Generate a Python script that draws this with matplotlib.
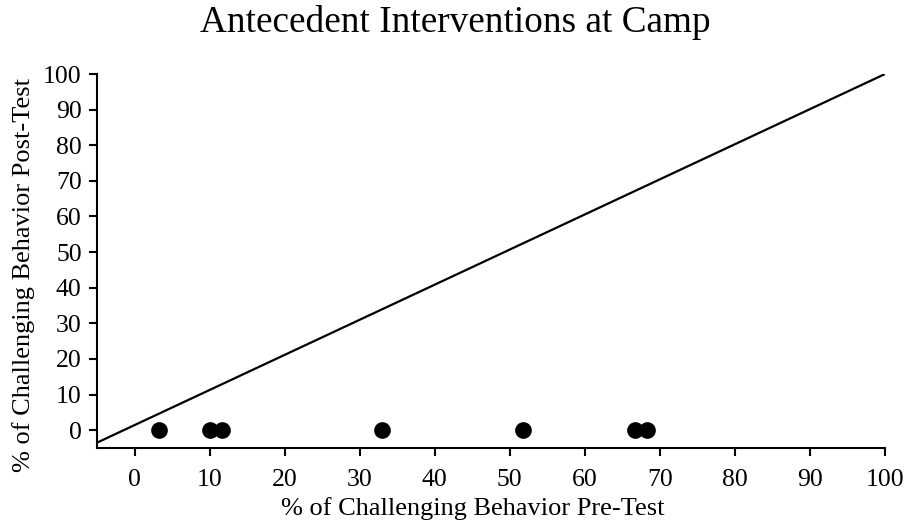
import matplotlib
matplotlib.use("Agg")
from matplotlib import pyplot as plt

pre_test = [3.3, 10.0, 11.7, 33.0, 51.7, 66.7, 68.3]
post_test = [0, 0, 0, 0, 0, 0, 0]
line_x = [-5, 100]
line_y = [-3.5, 100]
ticks = list(range(0, 101, 10))

plt.rcParams["font.family"] = ["Liberation Serif", "DejaVu Serif"]

fig = plt.figure(figsize=(9.1, 5.31), dpi=100)
ax = fig.add_axes([0.1066, 0.1563, 0.8659, 0.7043])

ax.plot(line_x, line_y, color="black", lw=1.6, zorder=2)
ax.scatter(pre_test, post_test, s=11 ** 2, color="black", zorder=3, clip_on=False)

ax.set_xlim(-5, 100)
ax.set_ylim(-5, 100)
ax.set_xticks(ticks)
ax.set_yticks(ticks)
for side in ["top", "right"]:
    ax.spines[side].set_visible(False)
for side in ["left", "bottom"]:
    ax.spines[side].set_linewidth(1.5)
ax.tick_params(direction="out", length=6, width=1.5, labelsize=18.5, pad=5)
ax.tick_params(axis="x", pad=9)

ax.set_xlabel("% of Challenging Behavior Pre-Test", fontsize=19)
ax.xaxis.set_label_coords(0.4765, -0.13)
ax.set_ylabel("% of Challenging Behavior Post-Test", fontsize=19)
ax.yaxis.set_label_coords(-0.079, 0.4626)
fig.suptitle("Antecedent Interventions at Camp", fontsize=26.8, y=0.99)

fig.savefig("out.png", dpi=100)
